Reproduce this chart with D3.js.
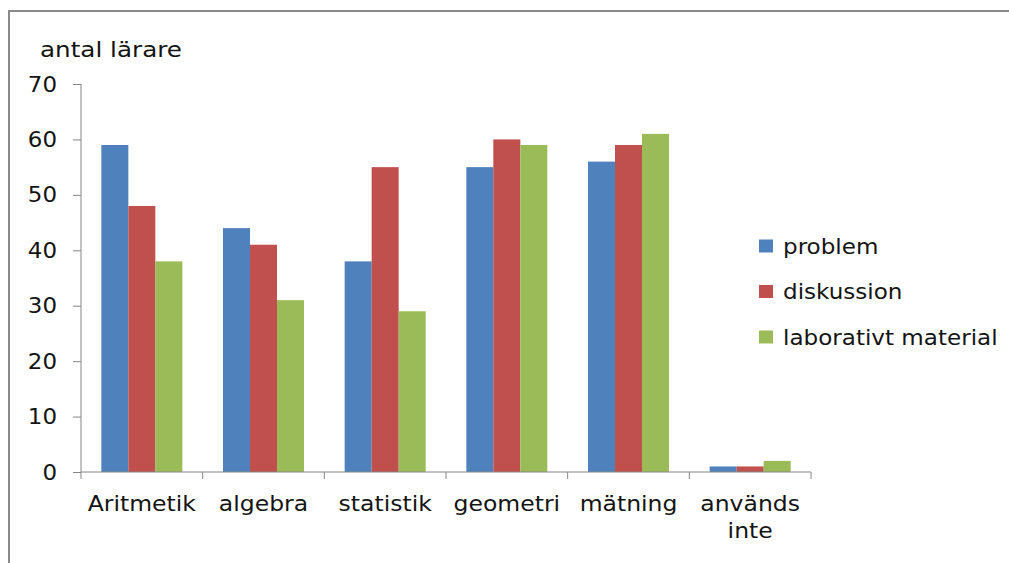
<!DOCTYPE html>
<html>
<head>
<meta charset="utf-8">
<script src="https://cdn.jsdelivr.net/npm/d3@7"></script>
<style>
  html, body { margin: 0; padding: 0; background: #fff; }
  svg { display: block; }
  text { font-family: "DejaVu Sans", sans-serif; fill: #141414; }
</style>
</head>
<body>
<svg id="chart" width="1009" height="563"></svg>
<script>
const categories = ["Aritmetik", "algebra", "statistik", "geometri", "mätning", "används inte"];
const seriesNames = ["problem", "diskussion", "laborativt material"];
const problem    = [59, 44, 38, 55, 56, 1];
const diskussion = [48, 41, 55, 60, 59, 1];
const laborativt = [38, 31, 29, 59, 61, 2];
const yTicks = [0, 10, 20, 30, 40, 50, 60, 70];
const colors = ["#4F81BD", "#C0504D", "#9BBB59"];
const yTitle = "antal lärare";

const values = [problem, diskussion, laborativt];
const svg = d3.select("#chart");
const textStretch = 1.12;

// frame (top and left edges)
svg.append("path")
  .attr("d", "M9,563 V11 H1009")
  .attr("fill", "none").attr("stroke", "#8a8a8a").attr("stroke-width", 2);

const plot = { left: 81, right: 811, top: 84, bottom: 472 };

const x0 = d3.scaleBand().domain(categories).range([plot.left, plot.right]).padding(0);
const x1 = d3.scaleBand().domain(seriesNames).range([0, x0.bandwidth()])
  .paddingInner(0).paddingOuter(0.753);
const y = d3.scaleLinear().domain([0, 70]).range([plot.bottom, plot.top]);

// horizontally stretched text
function label(parent, x, yy, str, size, anchor) {
  const g = parent.append("g").attr("transform", `translate(${x},${yy}) scale(${textStretch},1)`);
  g.append("text").attr("font-size", size).attr("text-anchor", anchor || "start").text(str);
  return g;
}

// bars
const groups = svg.append("g").selectAll("g")
  .data(categories).join("g")
  .attr("transform", d => `translate(${x0(d)},0)`);
groups.selectAll("rect")
  .data((d, i) => seriesNames.map((s, j) => ({ s, v: values[j][i], c: colors[j] })))
  .join("rect")
  .attr("x", d => x1(d.s))
  .attr("width", x1.bandwidth())
  .attr("y", d => y(d.v))
  .attr("height", d => y(0) - y(d.v))
  .attr("fill", d => d.c);

// y axis
const yAxis = d3.axisLeft(y).tickValues(yTicks).tickSize(8).tickFormat("");
const yg = svg.append("g").attr("transform", `translate(${plot.left},0)`).call(yAxis);
yg.select(".domain").attr("stroke", "#868686").attr("d", `M0,${plot.bottom}V${plot.top}`);
yg.selectAll(".tick line").attr("stroke", "#868686");
yTicks.forEach(t => label(svg, 57, y(t) + 7.5, String(t), 20.5, "end"));

// x axis
const xg = svg.append("g").attr("transform", `translate(0,${plot.bottom})`);
xg.append("line").attr("x1", plot.left).attr("x2", plot.right).attr("stroke", "#868686");
const bounds = categories.map(c => x0(c)).concat([plot.right]);
xg.selectAll("line.tk").data(bounds).join("line").attr("class", "tk")
  .attr("x1", d => d).attr("x2", d => d).attr("y1", 0).attr("y2", 7).attr("stroke", "#868686");
categories.forEach(c => {
  const cx = x0(c) + x0.bandwidth() / 2;
  const parts = c === "används inte" ? ["används", "inte"] : [c];
  parts.forEach((p, k) => label(svg, cx, 511 + k * 27, p, 21, "middle"));
});

// y title
label(svg, 40, 56.5, yTitle, 22, "start");

// legend
seriesNames.forEach((s, i) => {
  const cy = 246 + i * 45.5;
  svg.append("rect").attr("x", 759).attr("y", cy - 6.5).attr("width", 14).attr("height", 13).attr("fill", colors[i]);
  label(svg, 783, cy + 7.5, s, 20.6, "start");
});
</script>
</body>
</html>
